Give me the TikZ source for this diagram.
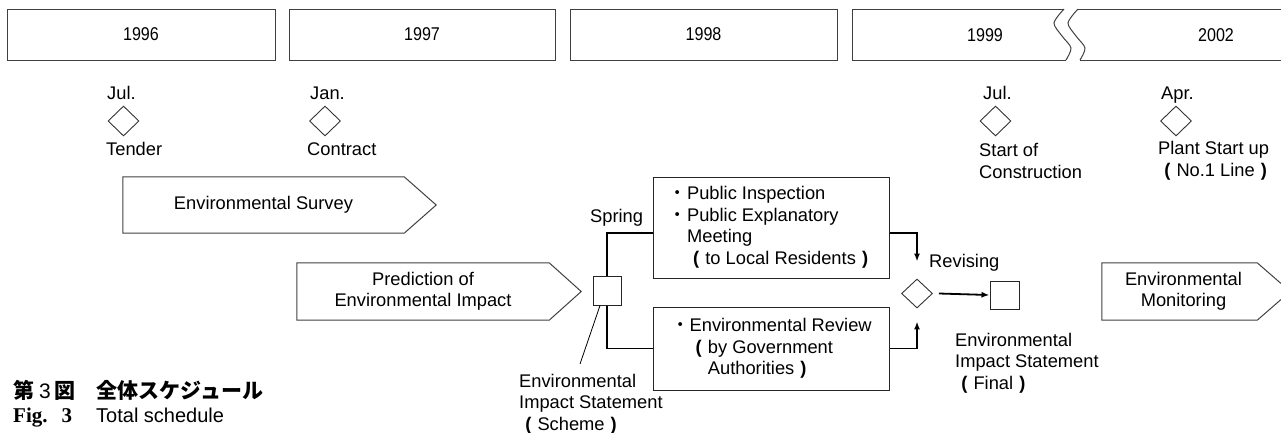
\documentclass[tikz,border=0pt]{standalone}
\usepackage{fontspec}
\setmainfont{Liberation Sans}
\newfontfamily\cjk{Noto Sans CJK JP}
\newfontfamily\serifbf{Liberation Serif}
\newfontfamily\condsans[FakeStretch=0.87]{Liberation Sans}
\usetikzlibrary{shapes.geometric,arrows.meta}
\newcommand\lp{\makebox[1em][c]{\bfseries(}}
\newcommand\rp{\makebox[1em][c]{\bfseries)}}
\newcommand\bul{{\cjk ・}}
\newcommand\ind{\hspace*{1em}}
\begin{document}
\begin{tikzpicture}[x=1pt,y=-1pt,
  every node/.style={inner sep=0pt},
  txt/.style={font=\fontsize{18.3}{21.5}\selectfont},
  lbl/.style={txt,anchor=west,align=left},
  boxline/.style={draw=black!75,line width=1pt},
  yearbox/.style={boxline,rectangle,minimum height=51pt,font=\condsans\fontsize{18.5}{20}\selectfont},
  yeartext/.style={font=\condsans\fontsize{18.5}{20}\selectfont},
  mile/.style={diamond,draw=black!80,line width=0.9pt,minimum width=31pt,minimum height=30pt},
  body/.style={txt,align=center,minimum height=57pt},
  pbox/.style={txt,draw=black!85,line width=1pt,anchor=west,align=left,minimum width=236pt},
  sqbox/.style={draw=black!85,line width=1pt,minimum width=28pt,minimum height=29pt},
  conn/.style={line width=1.8pt},
  tip/.style={-{Latex[length=8pt,width=6pt]}}
]
\useasboundingbox (0,0) rectangle (1281,432);
\clip (0,0) rectangle (1281,432);

% year bar
\node[yearbox,minimum width=268pt] (y1996) at (141,34.5) {1996};
\node[yearbox,minimum width=266pt] (y1997) at (422,34.5) {1997};
\node[yearbox,minimum width=267pt] (y1998) at (703.5,34.5) {1998};
\node[yeartext] (y1999) at (985,35) {1999};
\node[yeartext] (y2002) at (1216,35) {2002};
\draw[boxline] (1064,9) -- (852,9) -- (852,60) -- (1066,60);
\draw[boxline] plot[smooth] coordinates {(1064,9) (1054,23) (1062,36) (1071,48) (1066,60)};
\draw[boxline] plot[smooth] coordinates {(1078,9) (1068,23) (1076,36) (1085,48) (1080,60)};
\draw[boxline] (1078,9) -- (1295,9);
\draw[boxline] (1080,60) -- (1295,60);

% milestones
\node[lbl] (m1) at (107,93) {Jul.};
\node[mile] (d1) at (123.5,121) {};
\node[lbl] (e1) at (106,149) {Tender};
\node[lbl] (m2) at (310,93) {Jan.};
\node[mile] (d2) at (325,121) {};
\node[lbl] (e2) at (307,149) {Contract};
\node[lbl] (m3) at (983,93) {Jul.};
\node[mile] (d3) at (995.5,121) {};
\node[lbl] (e3) at (979,161) {Start of\\Construction};
\node[lbl] (m4) at (1161,95) {Apr.};
\node[mile] (d4) at (1176,121) {};
\node[lbl] (e4) at (1158,161) {Plant Start up\\\lp No.1 Line\rp};

% arrows (phases)
\node[body,minimum width=281pt,minimum height=56pt] (survey) at (263.5,205) {Environmental Survey};
\draw[boxline] (survey.north west) -- (survey.north east) -- ([xshift=32pt]survey.east) -- (survey.south east) -- (survey.south west) -- cycle;
\node[body,minimum width=252pt] (predict) at (423,291.5) {Prediction of\\Environmental Impact};
\draw[boxline] (predict.north west) -- (predict.north east) -- ([xshift=32pt]predict.east) -- (predict.south east) -- (predict.south west) -- cycle;
\node[body,minimum width=155pt] (monitor) at (1179.5,291.5) {\hspace*{8pt}Environmental\\\hspace*{8pt}Monitoring};
\draw[boxline] (monitor.north west) -- (monitor.north east) -- ([xshift=33pt]monitor.east) -- (monitor.south east) -- (monitor.south west) -- cycle;

% review process
\node[sqbox] (sq) at (607,290.5) {};
\node[pbox,minimum height=101pt] (upper) at (653,227.5) {\bul Public Inspection\\\bul Public Explanatory\\\ind Meeting\\\ind\lp to Local Residents\rp};
\node[pbox,minimum height=83pt] (lower) at (653,348.5) {\bul Environmental Review\\\ind\lp by Government\\\ind\ind Authorities\rp};
\node[mile,minimum width=31pt,minimum height=29pt] (rev) at (917,293.5) {};
\node[sqbox,minimum width=29pt,minimum height=28pt] (final) at (1004.5,295) {};

\draw[conn] (sq.north) |- ([yshift=-5.5pt]upper.west);
\draw[conn] (sq.south) |- (lower.west);
\draw[conn,tip] ([yshift=-5.5pt]upper.east) -| ([yshift=17pt]rev.north);
\draw[conn,tip] (lower.east) -| ([yshift=-13pt]rev.south);
\draw[conn,tip] ([xshift=6pt]rev.east) -- (final.west);

\node[lbl] (spring) at (590,218) {Spring};
\node[lbl] (revising) at (929,263) {Revising};
\node[lbl] (scheme) at (519,404) {Environmental\\Impact Statement\\\lp Scheme\rp};
\node[lbl] (finallbl) at (955,363) {Environmental\\Impact Statement\\\lp Final\rp};
\coordinate (schemept) at (580,364);
\draw[line width=0.8pt] ([xshift=-7pt]sq.south) -- (schemept);

% caption
\node[anchor=west,font=\fontsize{21}{24}\selectfont] (cap1) at (13,390)
  {{\cjk\bfseries 第}\hspace{5pt}3\hspace{4pt}{\cjk\bfseries 図}\hspace{21pt}{\cjk\bfseries 全体スケジュール}};
\node[anchor=west,font=\fontsize{20}{24}\selectfont] (cap2) at (13,418)
  {\makebox[83pt][l]{{\serifbf\bfseries\fontsize{21}{24}\selectfont Fig.\hspace{14pt}3}}Total schedule};
\end{tikzpicture}
\end{document}
